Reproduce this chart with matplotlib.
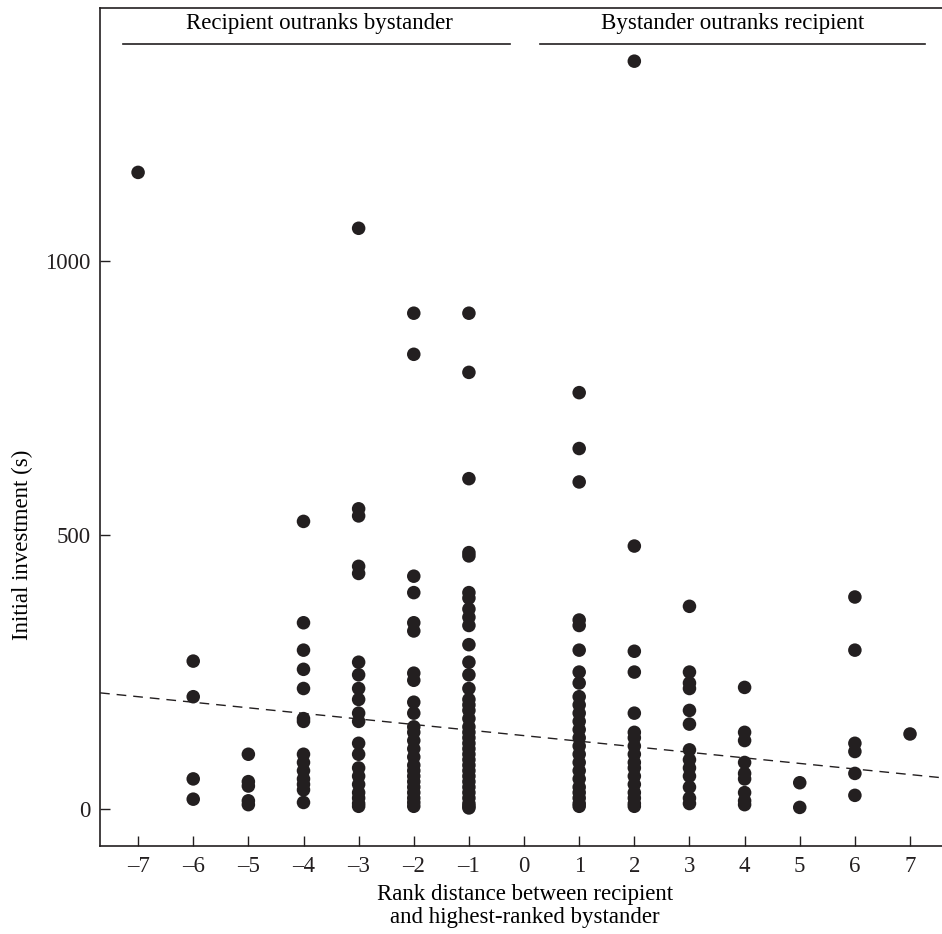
import numpy as np
import matplotlib
matplotlib.use("Agg")
import matplotlib.pyplot as plt

plt.rcParams['font.family'] = ['Liberation Serif', 'DejaVu Serif']

# rank distance -> initial investment values (s)
ranks = [-7, -6, -5, -4, -3, -2, -1, 1, 2, 3, 4, 5, 6, 7]
investments = [
    [1162],
    [270, 205, 55, 18],
    [100, 50, 42, 15, 8],
    [525, 340, 290, 255, 220, 165, 160, 100, 85, 70, 55, 45, 35, 12],
    [1060, 548, 535, 443, 430, 268, 245, 220, 200, 175, 160, 120, 100, 75,
     60, 45, 30, 20, 10, 5],
    [905, 830, 425, 395, 340, 325, 248, 235, 195, 175, 150, 140, 125, 110,
     95, 80, 70, 60, 50, 40, 30, 20, 12, 5],
    [905, 797, 603, 468, 462, 395, 385, 365, 350, 335, 300, 268, 245, 220,
     200, 190, 180, 165, 150, 140, 130, 120, 110, 100, 90, 80, 70, 60, 50,
     40, 30, 20, 10, 5, 2],
    [760, 658, 597, 345, 335, 290, 250, 230, 205, 190, 175, 160, 145, 130,
     115, 100, 85, 70, 55, 40, 30, 20, 10, 5],
    [1365, 480, 288, 250, 175, 140, 130, 115, 100, 85, 75, 60, 45, 30, 20,
     10, 5],
    [370, 250, 230, 220, 180, 155, 108, 90, 75, 60, 40, 20, 10],
    [222, 140, 125, 85, 65, 55, 30, 15, 8],
    [48, 3],
    [387, 290, 120, 105, 65, 25],
    [137],
]
# fitted regression line
fit_intercept = 134
fit_slope = -10.15

xs = []
ys = []
for r, vals in zip(ranks, investments):
    xs += [r] * len(vals)
    ys += vals

fig = plt.figure(figsize=(9.42, 9.34), dpi=100)
ax = fig.add_axes([0.1062, 0.0942, 0.8938, 0.8972])

ax.scatter(xs, ys, s=95, color='#231f20', edgecolors='none', zorder=3)

xl = np.array([-7.69, 7.58])
ax.plot(xl, fit_intercept + fit_slope * xl, color='#231f20', lw=1.0,
        dashes=(7, 5), zorder=2)

# group headers
ax.plot([-7.27, -0.25], [1396, 1396], color='#231f20', lw=1.2)
ax.plot([0.29, 7.27], [1396, 1396], color='#231f20', lw=1.2)
ax.text(-3.72, 1415, 'Recipient outranks bystander', ha='center',
        va='bottom', fontsize=16.5)
ax.text(3.78, 1415, 'Bystander outranks recipient', ha='center',
        va='bottom', fontsize=16.5)

ax.set_xlim(-7.69, 7.58)
ax.set_ylim(-67.5, 1462)
ax.set_xticks(range(-7, 8))
ax.set_xticklabels([str(t).replace('-', '\u2013') for t in range(-7, 8)])
ax.set_yticks([0, 500, 1000])

ax.spines['right'].set_visible(False)
for s in ['left', 'top', 'bottom']:
    ax.spines[s].set_linewidth(1.2)
    ax.spines[s].set_color('#231f20')
ax.tick_params(direction='in', length=7, width=1.0, labelsize=16.5,
               colors='#231f20', pad=7)

ax.set_xlabel('Rank distance between recipient\nand highest-ranked bystander',
              fontsize=16.5, labelpad=6, linespacing=1.15)
ax.set_ylabel('Initial investment (s)', fontsize=16.5)
ax.yaxis.set_label_coords(-0.08, 0.36)
ax.xaxis.set_label_coords(0.505, -0.045)
ax.xaxis.label.set_va('top')

fig.savefig('out.png', dpi=100)
